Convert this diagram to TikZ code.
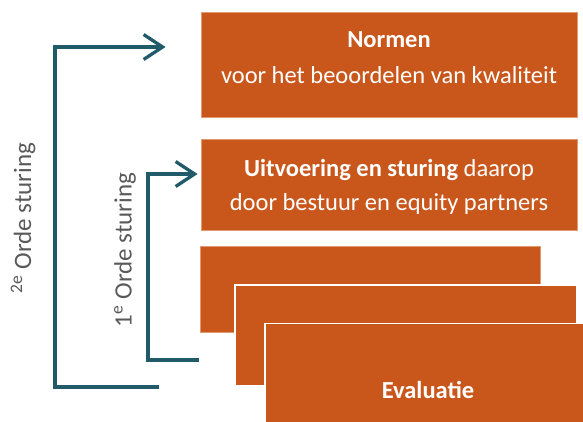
\documentclass[tikz,border=0pt]{standalone}
\usepackage{fontspec}
\setmainfont{Carlito}
\definecolor{stOrange}{HTML}{C9571C}
\definecolor{stEdge}{HTML}{E39A72}
\definecolor{stTeal}{HTML}{215A68}
\definecolor{stGray}{HTML}{595959}
\usetikzlibrary{calc,positioning,arrows.meta}

\begin{document}
\begin{tikzpicture}[x=1pt,y=-1pt,
    stepbox/.style={fill=stOrange, draw=stEdge, line width=0.8pt, text=white,
      align=center, inner sep=0pt, font=\fontsize{24.5}{34}\selectfont},
    stackbox/.style={stepbox, draw=white, line width=1.2pt},
    boxtext/.style={text=white, align=center, inner sep=0pt, font=\fontsize{24.5}{34}\selectfont},
    loop/.style={stTeal, line width=3.3pt, -{Straight Barb[length=19pt,width=25pt]}},
    sidelabel/.style={rotate=90, text=stGray, font=\fontsize{25}{30}\selectfont}]
  \clip (0,0) rectangle (583,421);
  % boxes
  \node[stepbox, minimum width=376pt, minimum height=105pt] (normen) at (389,64.5) {};
  \node[boxtext] (normenText) at ($(normen.center)+(0,-6.5)$)
    {\textbf{Normen}\\[2pt]voor het beoordelen van kwaliteit};
  \node[stepbox, minimum width=376pt, minimum height=91pt] (uitvoering) at (389,184.5) {};
  \node[boxtext] (uitvoeringText) at ($(uitvoering.center)+(0,2.5)$)
    {\textbf{Uitvoering en sturing} daarop\\door bestuur en equity partners};
  \node[stepbox, minimum width=340pt, minimum height=86pt] (back) at (370,289) {};
  \node[stackbox, minimum width=342pt, minimum height=101pt] (middle) at (406,335.5) {};
  \node[stackbox, minimum width=326pt, minimum height=132pt] (evaluatie) at (428,389.5)
    {\textbf{Evaluatie}};
  % feedback loops
  \coordinate (outerEnd) at (159,387);
  \coordinate (outerTip) at ($(normen.west)+(-35,-17.5)$);
  \coordinate (innerEnd) at (199,360);
  \coordinate (innerTip) at ($(uitvoering.west)+(-3,-10.5)$);
  \draw[loop] (outerEnd) -| (55,47) -- (outerTip);
  \draw[loop] (innerEnd) -| (148,174) -- (innerTip);
  \node[sidelabel] (second) at (23,218) {\textsuperscript{2e} Orde sturing};
  \node[sidelabel] (first) at (125,250) {1\textsuperscript{e} Orde sturing};
\end{tikzpicture}
\end{document}
